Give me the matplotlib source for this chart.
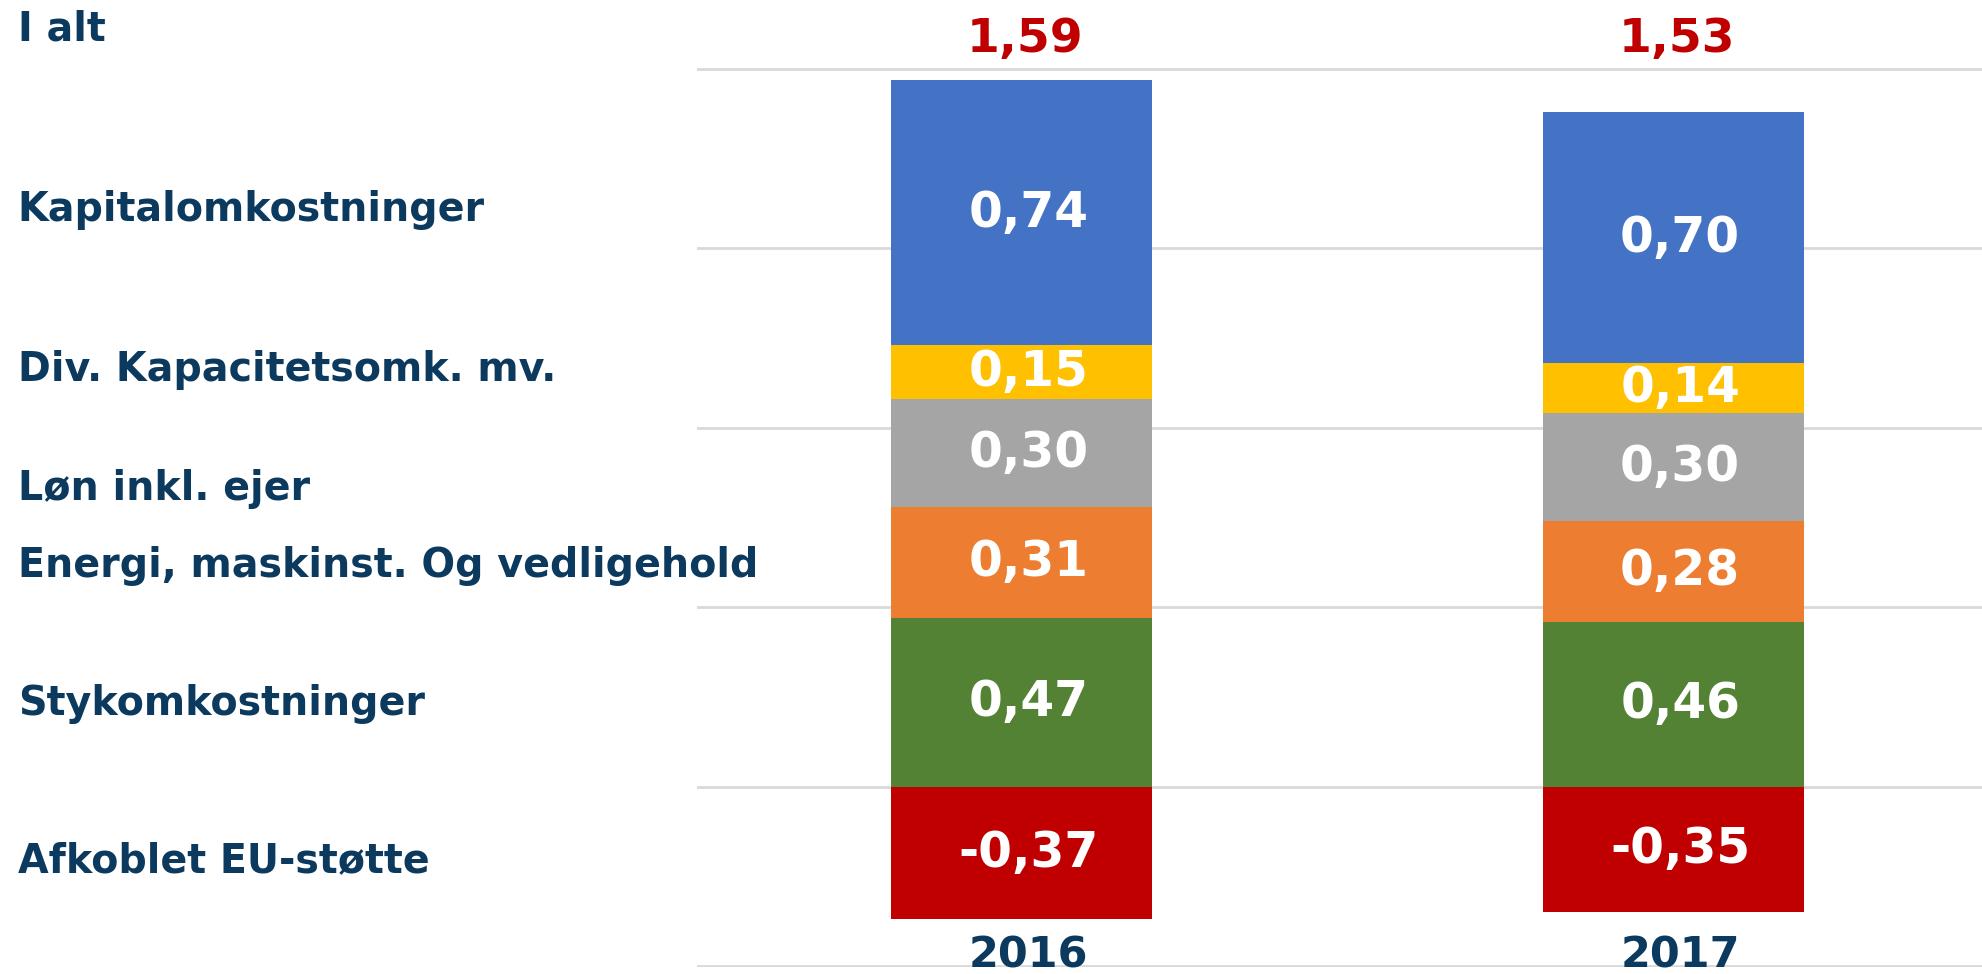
import matplotlib
matplotlib.use("Agg")
import matplotlib.pyplot as plt
import numpy as np

# Data
years = ["2016", "2017"]
styk = [0.47, 0.46]
energi = [0.31, 0.28]
loen = [0.30, 0.30]
div_kap = [0.15, 0.14]
kapital = [0.74, 0.70]
eu_stoette = [-0.37, -0.35]
totals = [1.59, 1.53]

# Left-hand labels (top to bottom)
row_labels = ["I alt", "Kapitalomkostninger", "Div. Kapacitetsomk. mv.",
              "Løn inkl. ejer", "Energi, maskinst. Og vedligehold",
              "Stykomkostninger", "Afkoblet EU-støtte"]
row_label_y = [0.970, 0.784, 0.620, 0.498, 0.419, 0.277, 0.116]

navy = "#0b3a5e"
positive = [(styk, "#548235"), (energi, "#ED7D31"), (loen, "#A5A5A5"),
            (div_kap, "#FFC000"), (kapital, "#4472C4")]

fig = plt.figure(figsize=(19.82, 9.74), dpi=100)
ax = fig.add_axes([0.3517, 0.0072, 0.6483, 0.923])

x = np.arange(len(years))
width = 0.40


def fmt(v):
    return f"{v:.2f}".replace(".", ",")


bottom = np.zeros(len(years))
for values, color in positive:
    vals = np.array(values)
    ax.bar(x, vals, width, bottom=bottom, color=color, zorder=2)
    for xi, b, v in zip(x, bottom, vals):
        ax.text(xi + 0.01, b + v / 2, fmt(v), ha="center", va="center",
                color="white", fontsize=35, fontweight="bold", zorder=3)
    bottom = bottom + vals

neg = np.array(eu_stoette)
ax.bar(x, neg, width, color="#C00000", zorder=2)
for xi, v in zip(x, neg):
    ax.text(xi + 0.01, v / 2, fmt(v), ha="center", va="center",
            color="white", fontsize=35, fontweight="bold", zorder=3)

# Totals above and years below the bars
for xi, t, yr in zip(x, totals, years):
    ax.text(xi + 0.005, 2.083, fmt(t), ha="center", va="center",
            color="#C00000", fontsize=34, fontweight="bold")
    ax.text(xi + 0.01, -0.47, yr, ha="center", va="center",
            color=navy, fontsize=31, fontweight="bold", zorder=3)

ax.set_xlim(-0.498, 1.473)
ax.set_ylim(-0.503, 2.003)
ax.set_yticks(np.arange(-0.5, 2.01, 0.5))
ax.yaxis.grid(True, color="#d9d9d9", linewidth=2, zorder=0)
ax.tick_params(left=False, bottom=False, labelleft=False, labelbottom=False)
for s in ax.spines.values():
    s.set_visible(False)

for lbl, y in zip(row_labels, row_label_y):
    fig.text(0.009, y, lbl, ha="left", va="center", color=navy,
             fontsize=28.5, fontweight="bold")

fig.savefig("out.png", dpi=100)
